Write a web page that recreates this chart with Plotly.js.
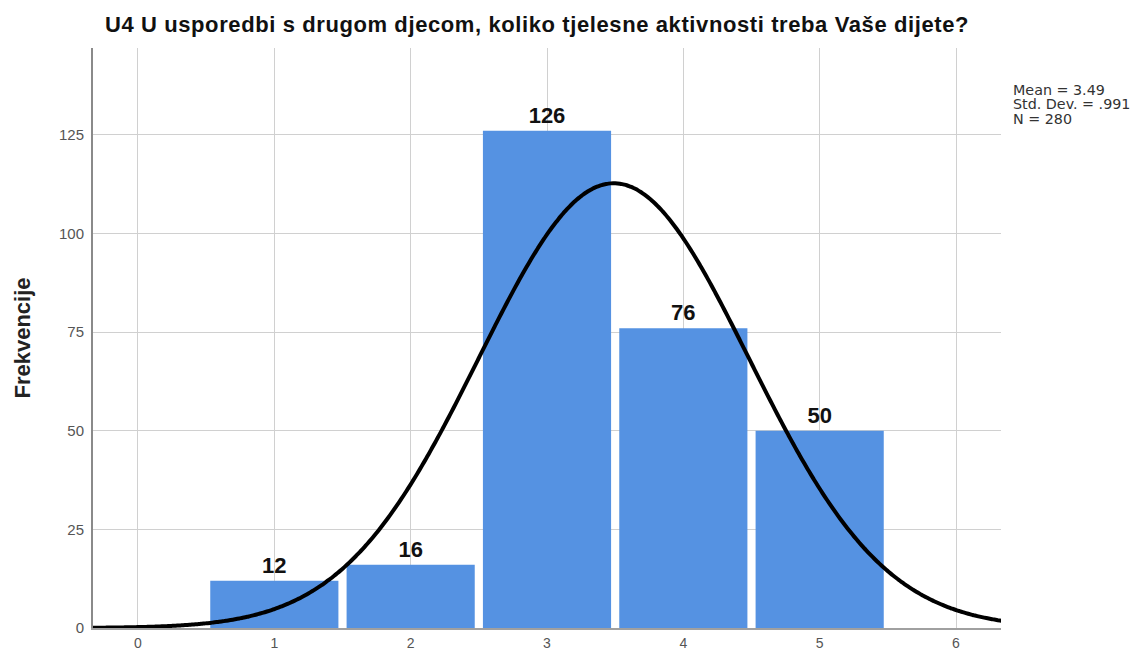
<!DOCTYPE html>
<html>
<head>
<meta charset="utf-8">
<script src="https://cdn.plot.ly/plotly-3.0.1.min.js"></script>
<style>
html,body{margin:0;padding:0;background:#fff;}
#chart{width:1136px;height:652px;}
.gtitle{letter-spacing:0.6px;}
</style>
</head>
<body>
<div id="chart"></div>
<script>
const categories = [1, 2, 3, 4, 5];
const frequencies = [12, 16, 126, 76, 50];
const statMean = 3.49;
const statSD = 0.991;
const statN = 280;
const xTickVals = [0, 1, 2, 3, 4, 5, 6];
const yTickVals = [0, 25, 50, 75, 100, 125];
const statLines = ['Mean = 3.49', 'Std. Dev. = .991', 'N = 280'];

// Normal curve fitted from the displayed statistics (bin width 1)
const curveX = [];
const curveY = [];
for (let i = 0; i <= 400; i++) {
  const x = -0.34 + i * (6.68 / 400);
  curveX.push(x);
  curveY.push(statN / (statSD * Math.sqrt(2 * Math.PI)) * Math.exp(-0.5 * Math.pow((x - statMean) / statSD, 2)));
}

const FONT = 'Liberation Sans, Arial, Helvetica, sans-serif';

const data = [
  {
    type: 'bar',
    x: categories,
    y: frequencies,
    width: 0.94,
    marker: {color: '#5592e2'},
    text: frequencies.map(v => '<b>' + v + '</b>'),
    textposition: 'outside',
    cliponaxis: false,
    textfont: {family: FONT, size: 22, color: '#111'},
    hoverinfo: 'x+y'
  },
  {
    type: 'scatter',
    mode: 'lines',
    x: curveX,
    y: curveY,
    line: {color: '#000', width: 4, shape: 'spline'},
    hoverinfo: 'skip'
  }
];

const annotations = statLines.map((t, i) => ({
  xref: 'paper', yref: 'paper',
  x: (1011 - 93) / 908,
  y: 1 - ((90 + i * 14.5) - 48) / 580,
  xanchor: 'left', yanchor: 'middle',
  align: 'left',
  showarrow: false,
  text: t,
  font: {family: 'DejaVu Sans, sans-serif', size: 14.3, color: '#333'}
}));

const layout = {
  width: 1136,
  height: 652,
  margin: {l: 93, r: 135, t: 48, b: 24},
  paper_bgcolor: '#fff',
  plot_bgcolor: '#fff',
  showlegend: false,
  title: {
    text: '<b>U4 U usporedbi s drugom djecom, koliko tjelesne aktivnosti treba Vaše dijete?</b>',
    font: {family: FONT, size: 22, color: '#111'},
    x: 537 / 1136, xref: 'container', xanchor: 'center',
    y: 1 - 24.5 / 652, yref: 'container', yanchor: 'middle'
  },
  xaxis: {
    range: [-0.33, 6.33],
    tickmode: 'array',
    tickvals: xTickVals,
    ticktext: xTickVals.map(String),
    showgrid: true,
    gridcolor: '#d0d0d0',
    gridwidth: 1,
    zeroline: false,
    showline: true,
    linecolor: '#a0a0a0',
    linewidth: 2,
    ticks: '',
    ticklabelstandoff: 1,
    tickfont: {family: FONT, size: 14, color: '#555'},
    fixedrange: true
  },
  yaxis: {
    range: [0, 147],
    tickmode: 'array',
    tickvals: yTickVals,
    ticktext: yTickVals.map(String),
    showgrid: true,
    gridcolor: '#d0d0d0',
    gridwidth: 1,
    zeroline: false,
    showline: true,
    linecolor: '#8a8a8a',
    linewidth: 2,
    ticks: '',
    ticklabelstandoff: 4,
    tickfont: {family: FONT, size: 15, color: '#555'},
    title: {
      text: '<b>Frekvencije</b>',
      font: {family: FONT, size: 22, color: '#222'},
      standoff: 22
    },
    fixedrange: true
  },
  annotations: annotations
};

Plotly.newPlot('chart', data, layout, {displayModeBar: false, staticPlot: true});
</script>
</body>
</html>
